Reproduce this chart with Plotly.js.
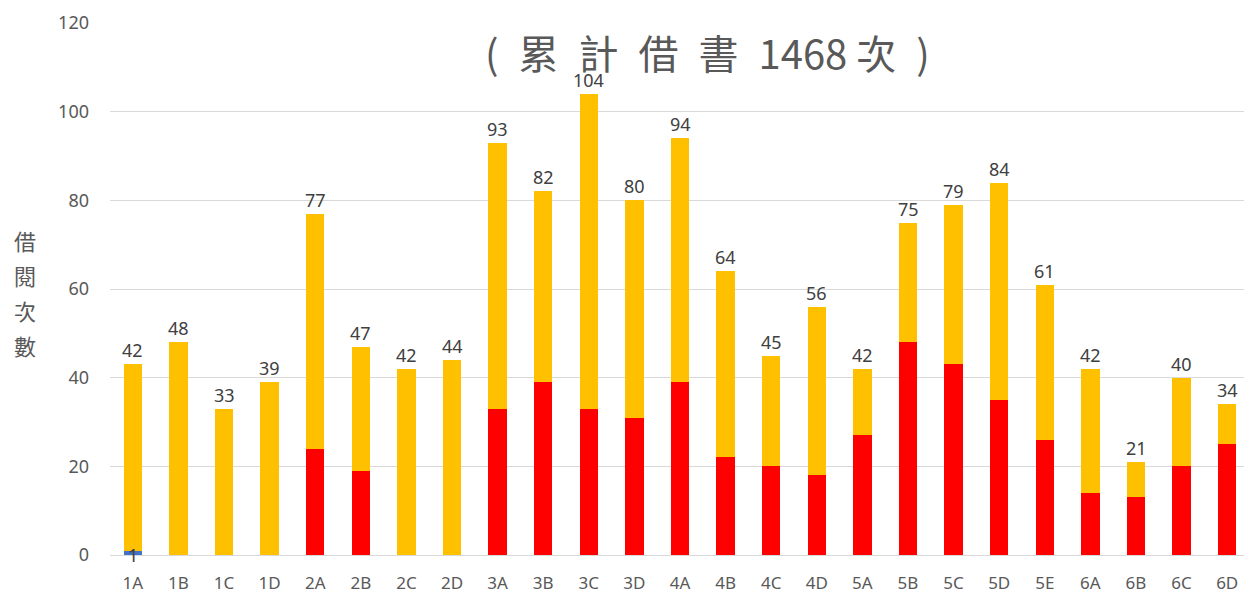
<!DOCTYPE html>
<html>
<head>
<meta charset="utf-8">
<script src="https://cdn.plot.ly/plotly-3.0.1.min.js"></script>
<style>html,body{margin:0;padding:0;overflow:hidden;background:#fff}</style>
</head>
<body>
<div id="chart"></div>
<script>
var categories = ['1A','1B','1C','1D','2A','2B','2C','2D','3A','3B','3C','3D','4A','4B','4C','4D','5A','5B','5C','5D','5E','6A','6B','6C','6D'];
var blueValues = [1,0,0,0,0,0,0,0,0,0,0,0,0,0,0,0,0,0,0,0,0,0,0,0,0];
var redValues = [0,0,0,0,24,19,0,0,33,39,33,31,39,22,20,18,27,48,43,35,26,14,13,20,25];
var totalLabels = [42,48,33,39,77,47,42,44,93,82,104,80,94,64,45,56,42,75,79,84,61,42,21,40,34];
var yTickVals = [0,20,40,60,80,100,120];
var chartTitle = '(\u2002累\u2002計\u2002借\u2002書\u20021468\u00a0次\u2002)';
var yTitleChars = ['借','閱','次','數'];

var yellowValues = totalLabels.map(function(t,i){ return t - redValues[i]; });

var fontFam = '"Noto Sans", "Noto Sans CJK TC", sans-serif';
var numColor = '#404040';
var axisColor = '#595959';

var traces = [
  {type:'bar', x:categories, y:blueValues, marker:{color:'#4472C4'}, hoverinfo:'none'},
  {type:'bar', x:categories, y:redValues, marker:{color:'#FF0000'}, hoverinfo:'none'},
  {type:'bar', x:categories, y:yellowValues, marker:{color:'#FFC000'}, hoverinfo:'none'}
];

var L = 110, T = 23, W = 1250, H = 594, B = 39;
var pw = W - L, ph = H - T - B;

var annotations = [];
categories.forEach(function(c,i){
  var top = blueValues[i] + redValues[i] + yellowValues[i];
  annotations.push({x:c, y:top, xref:'x', yref:'y', text:String(totalLabels[i]), showarrow:false,
    yanchor:'bottom', yshift:0, font:{family:fontFam, size:18, color:numColor}});
  if (blueValues[i] > 0) {
    annotations.push({x:c, y:blueValues[i]/2, xref:'x', yref:'y', text:String(blueValues[i]), showarrow:false,
      yanchor:'middle', yshift:-2, font:{family:fontFam, size:18, color:numColor}});
  }
});
annotations.push({x:(707 - L)/pw, y:(H - B - 52)/ph, xref:'paper', yref:'paper', text:chartTitle, showarrow:false,
  xanchor:'center', yanchor:'middle', font:{family:'"Noto Sans CJK TC", "Noto Sans", sans-serif', size:40, color:axisColor}});
yTitleChars.forEach(function(ch,k){
  annotations.push({x:(25 - L)/pw, y:(H - B - (240 + k*35))/ph, xref:'paper', yref:'paper', text:ch, showarrow:false,
    xanchor:'center', yanchor:'middle', font:{family:'"Noto Sans CJK TC", sans-serif', size:22, color:axisColor}});
});

var layout = {
  width: W, height: H,
  margin: {l:L, r:0, t:T, b:B, pad:0},
  paper_bgcolor:'#ffffff', plot_bgcolor:'#ffffff',
  barmode:'stack', bargap:0.595,
  showlegend:false,
  xaxis: {type:'category', showgrid:false, zeroline:false, showline:false, ticks:'',
    tickfont:{family:fontFam, size:17, color:axisColor}, ticklabelstandoff:16, fixedrange:true},
  yaxis: {range:[0,120], tickvals:yTickVals, showgrid:true, gridcolor:'#d9d9d9', gridwidth:1,
    zeroline:true, zerolinecolor:'#d9d9d9', zerolinewidth:1, showline:false, ticks:'',
    tickfont:{family:fontFam, size:18, color:axisColor}, ticklabelstandoff:20, fixedrange:true},
  annotations: annotations
};

Plotly.newPlot('chart', traces, layout, {displayModeBar:false, staticPlot:true});
</script>
</body>
</html>
